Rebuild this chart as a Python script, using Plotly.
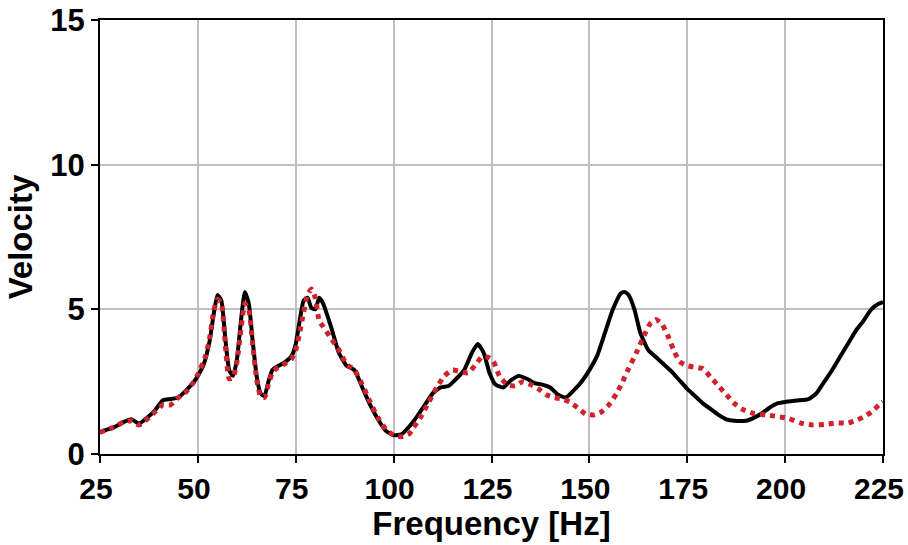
import plotly.graph_objects as go

# Measured response (black, solid)
freq_measured = [25, 27, 29, 31, 33, 35, 37, 39, 41, 43, 45, 47, 49, 50, 51.5, 53, 54, 55, 56, 57,
                 58, 59, 60, 61, 62, 63, 64, 65, 66, 67, 68, 69, 70, 72, 74, 75, 76, 77, 78, 79,
                 80, 81, 82, 84, 86, 88, 90, 92, 94, 96, 98, 100, 102, 104, 106, 108, 110, 112, 114, 116,
                 118, 120, 121.5, 123, 124.5, 126, 128, 130, 132, 134, 136, 138, 140, 142, 144, 146, 148, 150, 152, 154,
                 156, 158, 159, 160, 161.5, 163, 165, 167, 169, 171, 173, 175, 177, 179, 181, 183, 185, 187, 190, 192,
                 194, 196, 198, 200, 203, 206, 208, 210, 212, 214, 216, 218, 220, 222, 224, 225]
vel_measured = [0.76, 0.85, 0.95, 1.1, 1.2, 1.05, 1.25, 1.5, 1.85, 1.9, 1.95, 2.2, 2.5, 2.7, 3.1, 3.9, 4.8, 5.5, 5.3, 4.0,
                2.9, 2.7, 3.3, 4.6, 5.6, 5.2, 3.9, 2.7, 2.1, 2.0, 2.5, 2.9, 3.0, 3.15, 3.4, 3.8, 4.6, 5.3, 5.4, 5.05,
                5.0, 5.4, 5.2, 4.4, 3.5, 3.05, 2.9, 2.3, 1.7, 1.2, 0.8, 0.65, 0.68, 0.95, 1.3, 1.7, 2.1, 2.3, 2.35, 2.6,
                2.9, 3.5, 3.8, 3.5, 2.8, 2.4, 2.3, 2.55, 2.7, 2.6, 2.45, 2.4, 2.3, 2.05, 1.95, 2.2, 2.5, 2.9, 3.4, 4.2,
                5.0, 5.55, 5.6, 5.5, 5.0, 4.2, 3.6, 3.35, 3.1, 2.85, 2.55, 2.25, 2.0, 1.75, 1.55, 1.35, 1.2, 1.15, 1.15, 1.25,
                1.4, 1.6, 1.75, 1.8, 1.85, 1.9, 2.1, 2.5, 2.9, 3.35, 3.8, 4.25, 4.6, 5.0, 5.2, 5.25]

# Model response (red, dotted)
freq_model = [25, 27, 29, 31, 33, 35, 37, 39, 41, 43, 45, 47, 49, 50, 52, 53, 54, 55, 56, 57,
              58, 59, 60, 61, 62, 63, 64, 65, 66, 67, 68, 69, 70, 72, 74, 75, 76, 77, 78, 79,
              80, 81, 82, 84, 86, 88, 90, 92, 94, 96, 98, 100, 102, 104, 105, 107, 109, 111, 113, 115,
              117, 119, 121, 122.5, 124, 125.5, 127, 129, 131, 133, 135, 137, 139, 141, 143, 145, 147, 149, 151, 153,
              155, 157, 158.5, 160, 162, 164, 165.5, 167, 168.5, 170, 171.5, 173, 175, 177, 179, 181, 183, 185, 187, 189,
              192, 195, 198, 201, 204, 207, 210, 213, 216, 218, 220, 222, 224, 225]
vel_model = [0.75, 0.85, 0.95, 1.1, 1.15, 1.0, 1.2, 1.45, 1.7, 1.7, 1.95, 2.15, 2.5, 2.75, 3.4, 4.0, 4.9, 5.35, 5.2, 3.8,
             2.6, 2.65, 3.2, 4.3, 5.2, 5.0, 3.8, 2.6, 2.0, 1.95, 2.4, 2.8, 2.95, 3.1, 3.3, 3.6, 4.2, 4.9, 5.5, 5.7,
             5.4, 4.6, 4.4, 4.0, 3.6, 3.1, 2.9, 2.4, 1.8, 1.25, 0.85, 0.65, 0.6, 0.7, 0.9, 1.3, 1.8, 2.3, 2.7, 2.9,
             2.85, 2.8, 3.1, 3.35, 3.35, 3.2, 2.7, 2.4, 2.35, 2.5, 2.4, 2.25, 2.05, 1.95, 1.9, 1.8, 1.6, 1.38, 1.35, 1.45,
             1.7, 2.1, 2.5, 2.95, 3.5, 4.1, 4.5, 4.65, 4.5, 4.1, 3.6, 3.2, 3.05, 3.0, 2.95, 2.65, 2.35, 2.05, 1.75, 1.55,
             1.4, 1.35, 1.3, 1.22, 1.07, 1.0, 1.02, 1.07, 1.07, 1.15, 1.28, 1.45, 1.7, 1.8]

x_ticks = [25, 50, 75, 100, 125, 150, 175, 200, 225]
y_ticks = [0, 5, 10, 15]

FONT = "Liberation Sans, Arial, sans-serif"

fig = go.Figure()
fig.add_trace(go.Scatter(
    x=freq_measured, y=vel_measured, mode="lines",
    line=dict(color="#000000", width=4, shape="spline", smoothing=0.5),
    showlegend=False,
))
fig.add_trace(go.Scatter(
    x=freq_model, y=vel_model, mode="lines",
    line=dict(color="#d0222b", width=5, dash="5px,5px", shape="spline", smoothing=0.5),
    showlegend=False,
))

fig.update_layout(
    width=908, height=545,
    margin=dict(l=100, r=25, t=20, b=91, autoexpand=False),
    paper_bgcolor="white", plot_bgcolor="white",
    font=dict(family=FONT, color="black"),
)
fig.update_xaxes(
    range=[25, 225], tickvals=x_ticks, ticktext=[str(v) for v in x_ticks],
    showgrid=True, gridcolor="#c0c0c0", gridwidth=2,
    showline=True, linecolor="black", linewidth=2, mirror=True,
    ticks="outside", ticklen=7, tickwidth=2, tickcolor="black",
    tickfont=dict(family=FONT, size=30, weight="bold"),
    ticklabelshift=-4, ticklabeloverflow="allow",
    title=dict(text="Frequency [Hz]", font=dict(family=FONT, size=33, weight="bold"), standoff=3),
    zeroline=False, automargin=False,
)
fig.update_yaxes(
    range=[0, 15], tickvals=y_ticks, ticktext=[str(v) for v in y_ticks],
    showgrid=True, gridcolor="#c0c0c0", gridwidth=2,
    showline=True, linecolor="black", linewidth=2, mirror=True,
    ticks="outside", ticklen=7, tickwidth=2, tickcolor="black",
    tickfont=dict(family=FONT, size=31, weight="bold"),
    ticklabeloverflow="allow",
    title=dict(text="Velocity", font=dict(family=FONT, size=33, weight="bold"), standoff=8),
    zeroline=False, automargin=False,
)

fig.write_html("out.html")
